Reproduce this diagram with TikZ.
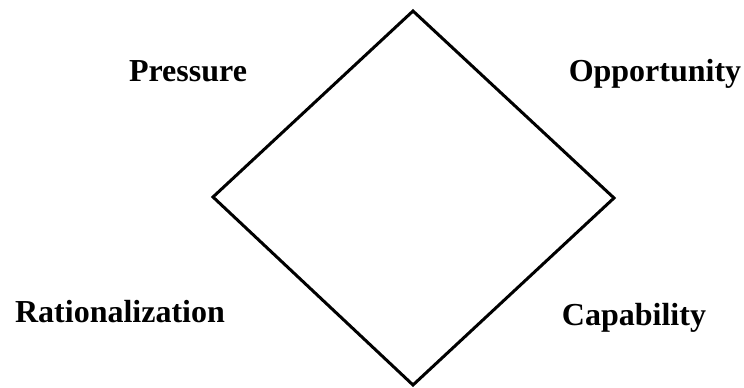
\documentclass[tikz,border=0pt]{standalone}
\usepackage{fontspec}
\setmainfont{Liberation Serif}
\usetikzlibrary{positioning}

\begin{document}
\begin{tikzpicture}[x=1pt, y=-1pt, line width=3pt, line join=miter,
                    factor/.style = {anchor=base, inner sep=0pt,
                        font=\fontsize{32}{36}\selectfont\bfseries}]
        \useasboundingbox (0,0) rectangle (744,388);

        \coordinate (top) at (413,11);
        \coordinate (left) at (213,197);
        \coordinate (bottom) at (413,385);
        \coordinate (right) at (614,198);

        \draw (top) -- (right) -- (bottom) -- (left) -- cycle;

        \node[factor] (pressure) at (188,81) {Pressure};
        \node[factor] (opportunity) at (655,81) {Opportunity};
        \node[factor] (rationalization) at (120,322) {Rationalization};
        \node[factor] (capability) at (634,325) {Capability};
    \end{tikzpicture}
\end{document}
